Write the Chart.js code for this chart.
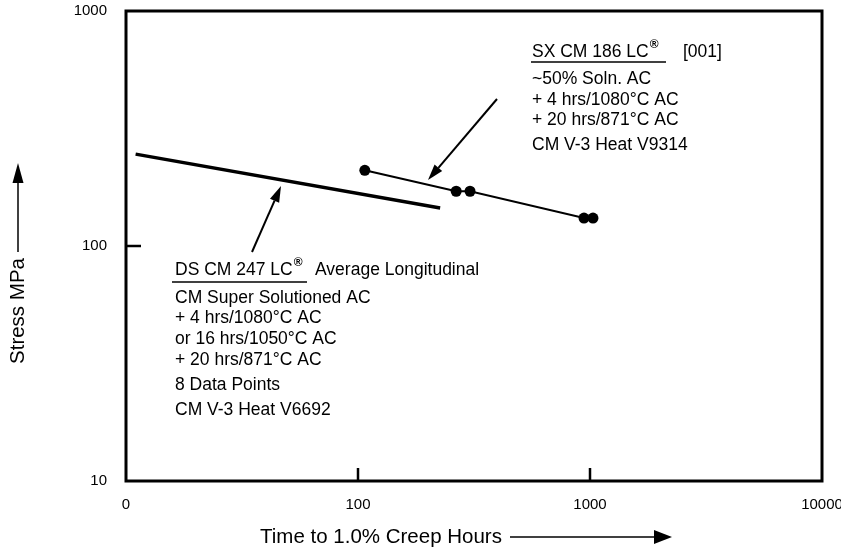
<!DOCTYPE html>
<html><head><meta charset="utf-8">
<script src="https://cdn.jsdelivr.net/npm/chart.js@4/dist/chart.umd.min.js"></script>
<style>html,body{margin:0;padding:0;background:#fff}#wrap{width:841px;height:550px}</style>
</head><body><div id="wrap"><canvas id="c" width="841" height="550"></canvas></div>
<script>
// ---- data ----
const xTickValues = [10, 100, 1000, 10000];
const xTickLabels = ["0", "100", "1000", "10000"];
const yTickValues = [10, 100, 1000];
const yTickLabels = ["10", "100", "1000"];
const dsTime = [11, 226];
const dsStress = [246, 145];
const sxTime = [107, 265, 304, 942, 1030];
const sxStress = [210, 171, 171, 131.5, 131.5];
const xTitle = "Time to 1.0% Creep Hours";
const yTitle = "Stress MPa";
const sxTitle = "SX CM 186 LC";
const sxOrient = "[001]";
const sxLines = ["~50% Soln. AC", "+ 4 hrs/1080°C AC", "+ 20 hrs/871°C AC", "CM V-3 Heat V9314"];
const dsTitle = "DS CM 247 LC";
const dsTitleTail = "Average Longitudinal";
const dsLines = ["CM Super Solutioned AC", "+ 4 hrs/1080°C AC", "or 16 hrs/1050°C AC", "+ 20 hrs/871°C AC", "8 Data Points", "CM V-3 Heat V6692"];

const FONT = '"Liberation Sans", Arial, Helvetica, sans-serif';
Chart.defaults.font.family = FONT;
Chart.defaults.color = '#000';

function toPts(xs, ys) { return xs.map((x, i) => ({ x: x, y: ys[i] })); }

function arrow(ctx, x1, y1, x2, y2, len, hw, lw) {
  const a = Math.atan2(y2 - y1, x2 - x1);
  const bx = x2 - len * Math.cos(a), by = y2 - len * Math.sin(a);
  ctx.lineWidth = lw;
  ctx.beginPath(); ctx.moveTo(x1, y1); ctx.lineTo(bx, by); ctx.stroke();
  ctx.beginPath();
  ctx.moveTo(x2, y2);
  ctx.lineTo(bx + hw * Math.sin(a), by - hw * Math.cos(a));
  ctx.lineTo(bx - hw * Math.sin(a), by + hw * Math.cos(a));
  ctx.closePath(); ctx.fill();
}

const ANN = '17.5px ' + FONT;
function titleWithR(ctx, text, x, y) {
  ctx.font = ANN;
  ctx.fillText(text, x, y);
  const w = ctx.measureText(text).width;
  ctx.font = 'bold 12px ' + FONT;
  ctx.fillText('®', x + w + 1, y - 7);
}

const decor = {
  id: 'decor',
  afterDatasetsDraw(chart) {
    const ctx = chart.ctx, ca = chart.chartArea;
    const xs = chart.scales.x, ys = chart.scales.y;
    ctx.save();
    ctx.strokeStyle = '#000'; ctx.fillStyle = '#000';
    // frame
    ctx.lineWidth = 3;
    ctx.strokeRect(ca.left, ca.top, ca.right - ca.left, ca.bottom - ca.top);
    // inward ticks
    ctx.lineWidth = 2.5;
    xTickValues.filter(v => v > xs.min && v < xs.max).forEach(v => {
      const px = xs.getPixelForValue(v);
      ctx.beginPath(); ctx.moveTo(px, ca.bottom); ctx.lineTo(px, ca.bottom - 13); ctx.stroke();
    });
    yTickValues.filter(v => v > ys.min && v < ys.max).forEach(v => {
      const py = ys.getPixelForValue(v);
      ctx.beginPath(); ctx.moveTo(ca.left, py); ctx.lineTo(ca.left + 15, py); ctx.stroke();
    });
    // axis titles
    ctx.textBaseline = 'middle';
    ctx.font = '20.5px ' + FONT;
    ctx.textAlign = 'left';
    ctx.fillText(xTitle, 260, 537);
    arrow(ctx, 510, 537, 672, 537, 18, 7, 1.5);
    ctx.save();
    ctx.translate(18, 311); ctx.rotate(-Math.PI / 2);
    ctx.textAlign = 'center';
    ctx.fillText(yTitle, 0, 0);
    ctx.restore();
    arrow(ctx, 18, 252, 18, 163, 20, 5.5, 1.5);
    // SX annotation
    ctx.textAlign = 'left';
    titleWithR(ctx, sxTitle, 532, 52);
    ctx.font = ANN;
    ctx.fillText(sxOrient, 683, 52);
    ctx.lineWidth = 1.5;
    ctx.beginPath(); ctx.moveTo(531, 62); ctx.lineTo(666, 62); ctx.stroke();
    const sxY = [79, 100, 120, 145];
    sxLines.forEach((t, i) => ctx.fillText(t, 532, sxY[i]));
    arrow(ctx, 497, 99, 428, 180, 16, 5, 2);
    // DS annotation
    titleWithR(ctx, dsTitle, 175, 270);
    ctx.font = ANN;
    ctx.fillText(dsTitleTail, 315, 270);
    ctx.lineWidth = 1.5;
    ctx.beginPath(); ctx.moveTo(172, 282); ctx.lineTo(307, 282); ctx.stroke();
    const dsY = [298, 318, 339, 360, 385, 410];
    dsLines.forEach((t, i) => ctx.fillText(t, 175, dsY[i]));
    arrow(ctx, 252, 252, 281, 186, 16, 5, 2);
    ctx.restore();
  }
};

new Chart(document.getElementById('c'), {
  type: 'scatter',
  data: {
    datasets: [
      { label: 'DS CM 247 LC', data: toPts(dsTime, dsStress), showLine: true,
        borderColor: '#000', borderWidth: 3.5, pointRadius: 0, borderCapStyle: 'butt' },
      { label: 'SX CM 186 LC', data: toPts(sxTime, sxStress), showLine: true,
        borderColor: '#000', borderWidth: 2, pointRadius: 5.5, pointBackgroundColor: '#000',
        pointBorderWidth: 0 }
    ]
  },
  options: {
    responsive: false, animation: false, devicePixelRatio: 1,
    layout: { padding: { top: 11, right: 19, left: 0, bottom: 0 } },
    plugins: { legend: { display: false }, tooltip: { enabled: false } },
    scales: {
      x: {
        type: 'logarithmic', min: 10, max: 10000,
        afterBuildTicks: s => { s.ticks = xTickValues.map(v => ({ value: v })); },
        afterFit: s => { s.height = 69; s.paddingLeft = 0; s.paddingRight = 0; },
        grid: { display: false, drawTicks: false }, border: { display: false },
        ticks: { autoSkip: false, maxRotation: 0, padding: 15, font: { size: 15 }, color: '#000',
          callback: v => xTickLabels[xTickValues.indexOf(v)] }
      },
      y: {
        type: 'logarithmic', min: 10, max: 1000,
        afterBuildTicks: s => { s.ticks = yTickValues.map(v => ({ value: v })); },
        afterFit: s => { s.width = 126; s.paddingTop = 0; s.paddingBottom = 0; },
        grid: { display: false, drawTicks: false }, border: { display: false },
        ticks: { autoSkip: false, padding: 19, font: { size: 15 }, color: '#000',
          callback: v => yTickLabels[yTickValues.indexOf(v)] }
      }
    }
  },
  plugins: [decor]
});
</script></body></html>
